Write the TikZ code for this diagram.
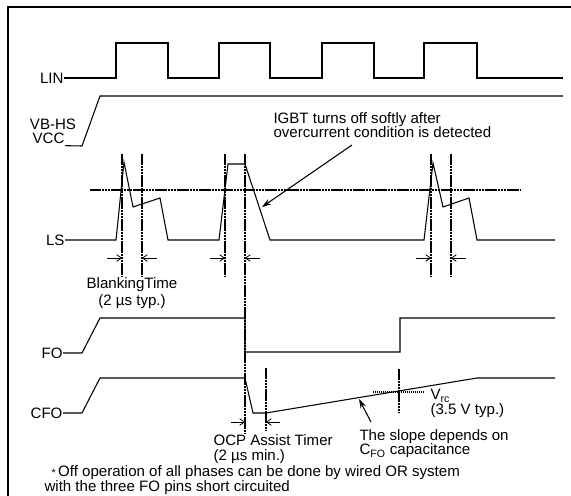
\documentclass[tikz,border=0pt]{standalone}
\usepackage{fontspec}
\setmainfont{Liberation Sans}
\usetikzlibrary{arrows.meta}

\begin{document}
\begin{tikzpicture}[x=0.75pt,y=-0.75pt,line width=0.8pt,
  font=\fontsize{11.3}{11.3}\selectfont,
  lbl/.style={inner sep=0},
  thr/.style={line width=2pt,dash pattern=on 0.9pt off 0.2pt},
  dim/.style={line width=0.6pt,-{Straight Barb[length=3.5pt,width=5pt]}},
  ptr/.style={line width=0.8pt,-{Stealth[length=7pt,width=4.5pt]}}]
\useasboundingbox (0,0) rectangle (571,496);
\draw[line width=1.2pt] (8,496) -- (8,7) -- (571,7);

\node[lbl,anchor=east] (lin) at (64,78) {LIN};
\draw (lin.east) -- (116,78) -- (116,43) -- (168,43) -- (168,78) -- (219,78) -- (219,43) -- (270,43) -- (270,78) -- (322,78) -- (322,43) -- (374,43) -- (374,78) -- (424,78) -- (424,43) -- (477,43) -- (477,78) -- (563,78);

\node[lbl,anchor=base] (vbhs) at (53,129) {VB-HS};
\node[lbl,anchor=base east] (vcc) at (65,143) {VCC};
\draw ([yshift=-2pt]vcc.base east) -- (82,146) -- (100,96) -- (563,96);

\node[lbl,anchor=east] (ls) at (65,240) {LS};
\draw (ls.east) -- (116,240) -- (124,162) -- (133,207) -- (160,198) -- (168,240) -- (219,240) -- (228,164) -- (245,164) -- (270,240) -- (424,240) -- (433,163) -- (443,207) -- (469,198) -- (477,240) -- (555,240);
\draw[thr] (90,190) -- (520,190);

\node[lbl,align=center] (blank) at (132,293) {BlankingTime\\[1pt](2 µs typ.)};

\node[lbl,anchor=east] (fo) at (63,353) {FO};
\draw (fo.east) -- (82,353) -- (100,318) -- (245,318) -- (245,352) -- (400,352) -- (400,318) -- (555,318);

\node[lbl,anchor=east] (cfo) at (63,413) {CFO};
\draw (cfo.east) -- (82,413) -- (100,378) -- (245,378) -- (253,413) -- (266,413) -- (477,378) -- (555,378);

\foreach \x in {122,142,225,431,451} \draw[thr] (\x,154) -- (\x,277);
\draw[thr] (245,154) -- (245,433);
\foreach \a/\b in {122/142,225/245,431/451} {
  \draw[dim] (\a-15,258) -- (\a,258);
  \draw[dim] (\b+15,258) -- (\b,258);
}

\draw[thr] (266,368) -- (266,430);
\draw[dim] (231,422) -- (245,422);
\draw[dim] (280,422) -- (266,422);
\node[lbl,anchor=north west,align=left] (ocp) at (213,434) {OCP Assist Timer\\[0pt](2 µs min.)};

\draw[thr] (399,369) -- (399,413);
\draw[line width=1.1pt,dash pattern=on 1pt off 0.5pt] (373,392) -- (425,392);
\node[lbl,anchor=north west,align=left] (vrc) at (430,389) {V\textsubscript{rc}\\[0pt](3.5 V typ.)};

\node[lbl,anchor=north west,align=left] (slope) at (359,429) {The slope depends on\\[-0.5pt]C\textsubscript{FO} capacitance};
\coordinate (slopetail) at (371,422);
\coordinate (slopehead) at (359,399);
\draw[ptr] (slopetail) -- (slopehead);

\node[lbl,anchor=north west,align=left] (igbt) at (273,112) {IGBT turns off softly after\\[-0.5pt]overcurrent condition is detected};
\coordinate (igbttail) at (352,145);
\coordinate (igbthead) at (262,207);
\draw[ptr] (igbttail) -- (igbthead);

\node[lbl,anchor=base west] (note1) at (51,476) {{\footnotesize *}\,Off operation of all phases can be done by wired OR system};
\node[lbl,anchor=base west] (note2) at (44,491) {with the three FO pins short circuited};
\end{tikzpicture}
\end{document}
